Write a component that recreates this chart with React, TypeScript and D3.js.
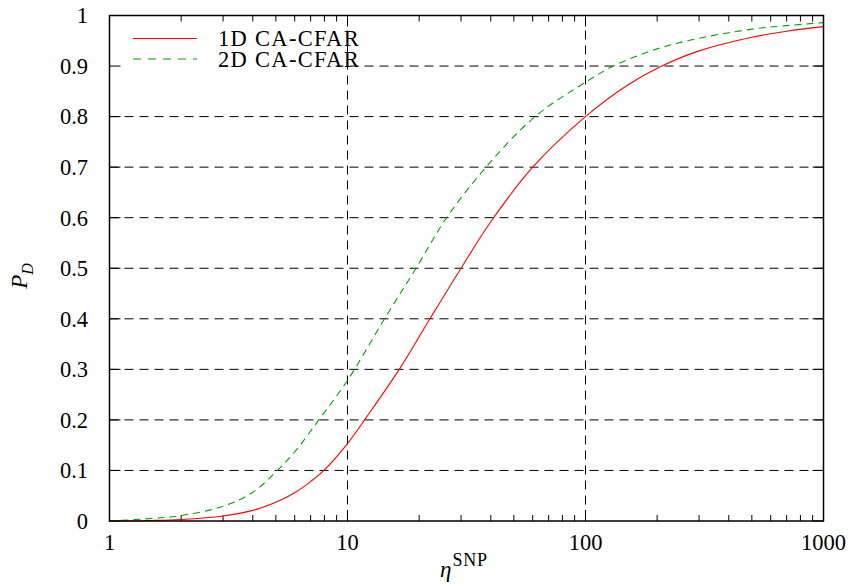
import { useEffect, useRef } from 'react'
import * as d3 from 'd3'

// eta^SNP sample points (log axis), P_D
const snr1D = [1, 1.5, 2, 3, 4, 5, 6, 7, 8, 10, 12, 16.6, 22.2, 30, 40, 60, 100, 150, 205, 300, 500, 700, 1000]
const pd1D = [0, 0.001, 0.003, 0.01, 0.021, 0.037, 0.056, 0.078, 0.101, 0.153, 0.205, 0.302, 0.4, 0.5, 0.592, 0.7, 0.8, 0.862, 0.898, 0.93, 0.957, 0.969, 0.978]

const snr2D = [1, 1.5, 2, 3, 4, 5, 6, 7.66, 10, 14.3, 19.4, 26.1, 38.2, 61.4, 100, 131, 200, 300, 500, 700, 1000]
const pd2D = [0, 0.005, 0.011, 0.029, 0.057, 0.097, 0.137, 0.203, 0.278, 0.4, 0.5, 0.6, 0.7, 0.8, 0.868, 0.9, 0.934, 0.955, 0.973, 0.98, 0.986]

const xMajor = [1, 10, 100, 1000]
const xMinor = [2, 3, 4, 5, 6, 7, 8, 9, 20, 30, 40, 50, 60, 70, 80, 90, 200, 300, 400, 500, 600, 700, 800, 900]
const yTicks = [0, 0.1, 0.2, 0.3, 0.4, 0.5, 0.6, 0.7, 0.8, 0.9, 1]

const series = [
  { name: '1D CA-CFAR', x: snr1D, y: pd1D, color: '#ff0000', dash: null },
  { name: '2D CA-CFAR', x: snr2D, y: pd2D, color: '#00a000', dash: '7,5' },
]

const W = 849
const H = 586
const FONT = "'Liberation Serif', 'Times New Roman', 'DejaVu Serif', serif"

export default function App() {
  const svgRef = useRef<SVGSVGElement>(null)

  useEffect(() => {
    if (!svgRef.current) return
    const svg = d3.select(svgRef.current)
    svg.selectAll('*').remove()

    const left = 109.5
    const right = 823.5
    const top = 15.5
    const bottom = 521

    const x = d3.scaleLog().domain([1, 1000]).range([left, right])
    const y = d3.scaleLinear().domain([0, 1]).range([bottom, top])

    const g = svg.append('g')

    // horizontal grid
    const grid = g.append('g').attr('stroke', '#000').attr('stroke-width', 1).attr('stroke-dasharray', '9,6')
    yTicks.filter((t) => t > 0 && t < 1).forEach((t) => {
      grid.append('line')
        .attr('x1', left).attr('x2', right)
        .attr('y1', y(t)).attr('y2', y(t))
    })

    // key area hides the grid behind it
    g.append('rect')
      .attr('x', left + 1).attr('y', top + 1)
      .attr('width', 225).attr('height', 56)
      .attr('fill', '#fff')

    // vertical grid
    const vgrid = g.append('g').attr('stroke', '#000').attr('stroke-width', 1).attr('stroke-dasharray', '9,6')
    xMajor.filter((t) => t > 1 && t < 1000).forEach((t) => {
      vgrid.append('line')
        .attr('x1', x(t)).attr('x2', x(t))
        .attr('y1', top).attr('y2', bottom)
    })

    // ticks (mirrored)
    const ticks = g.append('g').attr('stroke', '#000').attr('stroke-width', 1)
    yTicks.forEach((t) => {
      ticks.append('line').attr('x1', left).attr('x2', left + 11).attr('y1', y(t)).attr('y2', y(t))
      ticks.append('line').attr('x1', right).attr('x2', right - 11).attr('y1', y(t)).attr('y2', y(t))
    })
    xMajor.forEach((t) => {
      ticks.append('line').attr('x1', x(t)).attr('x2', x(t)).attr('y1', bottom).attr('y2', bottom - 11)
      ticks.append('line').attr('x1', x(t)).attr('x2', x(t)).attr('y1', top).attr('y2', top + 11)
    })
    xMinor.forEach((t) => {
      ticks.append('line').attr('x1', x(t)).attr('x2', x(t)).attr('y1', bottom).attr('y2', bottom - 6)
      ticks.append('line').attr('x1', x(t)).attr('x2', x(t)).attr('y1', top).attr('y2', top + 6)
    })

    // curves
    series.forEach((s) => {
      const pts = s.x.map((v, i) => [v, s.y[i]] as [number, number])
      const line = d3.line<[number, number]>()
        .x((d) => x(d[0]))
        .y((d) => y(d[1]))
        .curve(d3.curveCatmullRom.alpha(0.5))
      const p = g.append('path')
        .attr('d', line(pts))
        .attr('fill', 'none')
        .attr('stroke', s.color)
        .attr('stroke-width', 1.1)
      if (s.dash) p.attr('stroke-dasharray', s.dash)
    })

    // border
    g.append('rect')
      .attr('x', left).attr('y', top)
      .attr('width', right - left).attr('height', bottom - top)
      .attr('fill', 'none').attr('stroke', '#000').attr('stroke-width', 1.5)

    // tick labels
    const lbl = g.append('g').style('font-family', FONT).style('font-size', '22.5px').attr('fill', '#000')
    yTicks.forEach((t) => {
      lbl.append('text')
        .attr('x', 88).attr('y', y(t)).attr('dy', '0.35em')
        .attr('text-anchor', 'end')
        .text(d3.format('')(t))
    })
    xMajor.forEach((t) => {
      lbl.append('text')
        .attr('x', x(t)).attr('y', 550)
        .attr('text-anchor', 'middle')
        .text(String(t))
    })

    // legend
    series.forEach((s, i) => {
      const ly = 38.5 + i * 20.5
      const l = g.append('line')
        .attr('x1', 133).attr('x2', 197)
        .attr('y1', ly).attr('y2', ly)
        .attr('stroke', s.color).attr('stroke-width', 1.1)
      if (s.dash) l.attr('stroke-dasharray', '8,7')
      lbl.append('text')
        .attr('x', 218).attr('y', ly + 7.5)
        .style('font-size', '22.5px')
        .style('letter-spacing', '1.3px')
        .text(s.name)
    })

    // axis titles
    const xt = g.append('text')
      .style('font-family', FONT).style('font-size', '23px')
      .attr('x', 440).attr('y', 577)
    xt.append('tspan').style('font-style', 'italic').text('η')
    xt.append('tspan').style('font-size', '18px').style('letter-spacing', '0.8px')
      .attr('dy', -11).attr('dx', 1).text('SNP')

    const yt = g.append('text')
      .style('font-family', FONT).style('font-size', '23px')
      .attr('transform', 'translate(27,276) rotate(-90)')
      .attr('text-anchor', 'middle')
    yt.append('tspan').style('font-style', 'italic').text('P')
    yt.append('tspan').style('font-style', 'italic').style('font-size', '16px').attr('dy', 6).text('D')
  }, [])

  return (
    <svg
      ref={svgRef}
      width={W}
      height={H}
      style={{ position: 'absolute', left: 0, top: 0, background: '#fff' }}
    />
  )
}
